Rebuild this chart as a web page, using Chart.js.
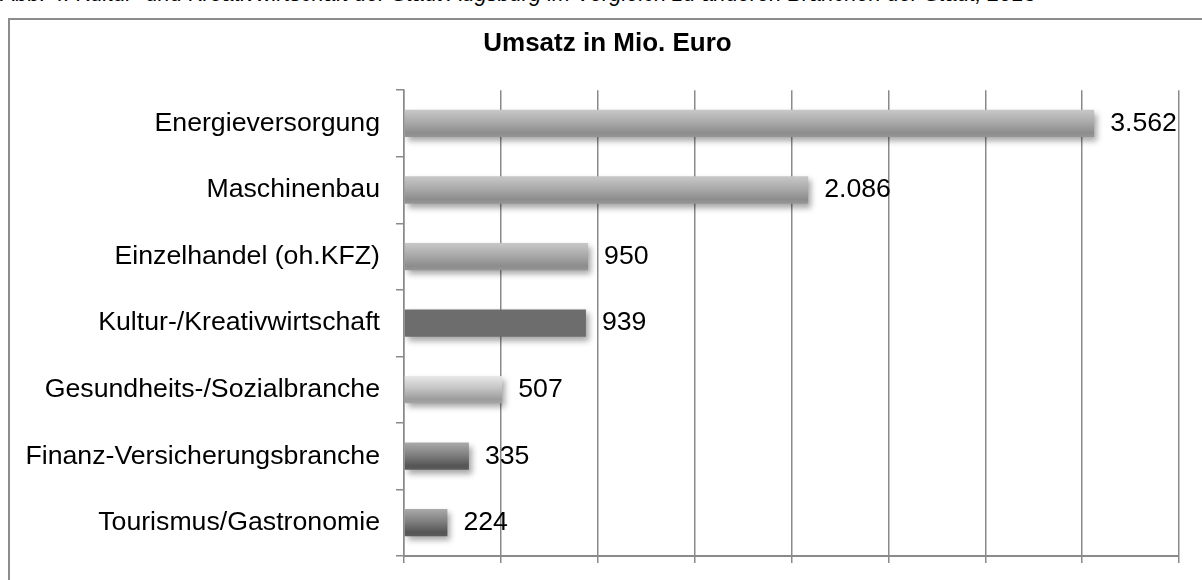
<!DOCTYPE html>
<html>
<head>
<meta charset="utf-8">
<script src="https://cdn.jsdelivr.net/npm/chart.js@4.4.1/dist/chart.umd.min.js"></script>
<style>
  html, body { margin: 0; padding: 0; background: #fff; overflow: hidden; width: 1202px; height: 580px; }
  #caption { position: absolute; left: 1px; top: -17px; font: italic 21.8px "Liberation Sans", Arial, sans-serif; line-height: 22px; white-space: nowrap; color: #000; }
  #frame { position: absolute; left: 8px; top: 18px; right: -10px; bottom: -10px; border-left: 2px solid #8c8c8c; border-top: 2px solid #8c8c8c; }
  #wrap { position: absolute; left: 0; top: 0; width: 1202px; height: 580px; }
</style>
</head>
<body>
<div id="caption">Abb. 4: Kultur- und Kreativwirtschaft der Stadt Augsburg im Vergleich zu anderen Branchen der Stadt, 2013</div>
<div id="frame"></div>
<div id="wrap"><canvas id="umsatzChart"></canvas></div>
<script>
const branchen = [
  "Energieversorgung",
  "Maschinenbau",
  "Einzelhandel (oh.KFZ)",
  "Kultur-/Kreativwirtschaft",
  "Gesundheits-/Sozialbranche",
  "Finanz-Versicherungsbranche",
  "Tourismus/Gastronomie"
];
const umsatz = [3562, 2086, 950, 939, 507, 335, 224];
const achseMax = 4000;
const achseSchritt = 500;

const FONT = '"Liberation Sans", Arial, sans-serif';
const GRID = "#8a8a8a";
const FRAME_LEFT = 36; // title is centred inside the outer frame, not the canvas

// gradient stops per bar (top -> bottom)
const shades = [
  ["#c8c8c8", "#aaaaaa", "#8c8c8c", "#969696"],
  ["#c8c8c8", "#aaaaaa", "#8c8c8c", "#969696"],
  ["#c8c8c8", "#aaaaaa", "#8c8c8c", "#969696"],
  ["#6d6d6d"],
  ["#e8e8e8", "#c4c4c4", "#9c9c9c", "#a4a4a4"],
  ["#aaaaaa", "#808080", "#555555", "#5c5c5c"],
  ["#aaaaaa", "#808080", "#555555", "#5c5c5c"]
];
const BAR_PCT = 0.41;

function barFill(context) {
  const stops = shades[context.dataIndex] || ["#999"];
  if (stops.length === 1) return stops[0];
  const yScale = context.chart.scales.y;
  if (!yScale || context.type !== "data") return stops[1];
  const yc = yScale.getPixelForValue(context.dataIndex);
  const half = (yScale.bottom - yScale.top) / branchen.length * BAR_PCT / 2;
  if (!isFinite(yc) || !isFinite(half) || half <= 0) return stops[1];
  const g = context.chart.ctx.createLinearGradient(0, yc - half, 0, yc + half);
  g.addColorStop(0, stops[0]);
  g.addColorStop(0.45, stops[1]);
  g.addColorStop(0.85, stops[2]);
  g.addColorStop(1, stops[3]);
  return g;
}

function deZahl(v) {
  return String(v).replace(/\B(?=(\d{3})+(?!\d))/g, ".");
}

// shift the title box so it centres over the frame
const titleShift = {
  id: "titleShift",
  afterLayout(chart) {
    const t = chart.titleBlock;
    if (t) { t.left = FRAME_LEFT; t.width = t.right - t.left; }
  }
};

// soft drop shadow under the bars
const shadowPlugin = {
  id: "barShadow",
  beforeDatasetsDraw(chart) {
    const c = chart.ctx;
    c.save();
    c.shadowColor = "rgba(0,0,0,0.35)";
    c.shadowBlur = 6;
    c.shadowOffsetX = 3;
    c.shadowOffsetY = 4;
  },
  afterDatasetsDraw(chart) {
    chart.ctx.restore();
  }
};

// value next to each bar
const valuePlugin = {
  id: "barValues",
  afterDatasetsDraw(chart) {
    const c = chart.ctx;
    const meta = chart.getDatasetMeta(0);
    c.save();
    c.font = "26.7px " + FONT;
    c.fillStyle = "#000";
    c.textAlign = "left";
    c.textBaseline = "middle";
    meta.data.forEach((bar, i) => {
      c.fillText(deZahl(umsatz[i]), bar.x + 16, bar.y);
    });
    c.restore();
  }
};

const ctx = document.getElementById("umsatzChart").getContext("2d");
new Chart(ctx, {
  type: "bar",
  data: {
    labels: branchen,
    datasets: [{
      data: umsatz,
      backgroundColor: barFill,
      borderWidth: 0,
      categoryPercentage: 1,
      barPercentage: BAR_PCT
    }]
  },
  options: {
    indexAxis: "y",
    responsive: true,
    maintainAspectRatio: false,
    animation: false,
    layout: { padding: { left: 0, right: 23, top: 0, bottom: 17 } },
    plugins: {
      legend: { display: false },
      tooltip: { enabled: false },
      title: {
        display: true,
        text: "Umsatz in Mio. Euro",
        color: "#000",
        font: { family: FONT, size: 26, weight: "bold" },
        padding: { top: 28, bottom: 31 }
      }
    },
    scales: {
      x: {
        min: 0,
        max: achseMax,
        ticks: { stepSize: achseSchritt, display: false },
        grid: { color: GRID, lineWidth: 1.5, tickLength: 7 },
        border: { color: GRID, width: 2 }
      },
      y: {
        grid: { drawOnChartArea: false, offset: true, tickLength: 8, color: GRID, lineWidth: 1.5 },
        border: { color: GRID, width: 1.5 },
        ticks: { padding: 16, color: "#000", font: { family: FONT, size: 26.7 } },
        afterFit(scale) {
          scale.width = 404;
          // labels sit inside their category bands, no extra room needed
          scale.paddingTop = 0;
          scale.paddingBottom = 0;
        }
      }
    }
  },
  plugins: [titleShift, shadowPlugin, valuePlugin]
});
</script>
</body>
</html>
